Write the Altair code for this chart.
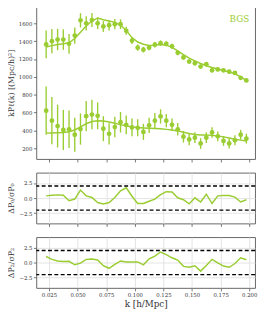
import altair as alt
import pandas as pd

GREEN = "#9acd32"
FONT = "DejaVu Serif"

k = [0.0225, 0.0275, 0.0325, 0.0375, 0.0425, 0.0475, 0.0525, 0.0575, 0.0625,
     0.0675, 0.0725, 0.0775, 0.0825, 0.0875, 0.0925, 0.0975, 0.1025, 0.1075,
     0.1125, 0.1175, 0.1225, 0.1275, 0.1325, 0.1375, 0.1425, 0.1475, 0.1525,
     0.1575, 0.1625, 0.1675, 0.1725, 0.1775, 0.1825, 0.1875, 0.1925, 0.1975]

p0 = [1364, 1400, 1418, 1418, 1370, 1462, 1633, 1600, 1636, 1600, 1564, 1578,
      1590, 1590, 1516, 1407, 1327, 1305, 1327, 1360, 1378, 1370, 1342, 1270,
      1218, 1171, 1153, 1116, 1142, 1073, 1084, 1073, 1058, 1044, 989, 960]
p0_err = [155, 135, 120, 115, 110, 90, 80, 80, 78, 65, 60, 60, 58, 55, 45, 40,
          35, 32, 30, 30, 30, 28, 28, 27, 26, 25, 25, 24, 24, 23, 22, 22, 22,
          21, 21, 20]
p0_model = [1335, 1350, 1362, 1370, 1382, 1430, 1500, 1570, 1625, 1660, 1640,
            1625, 1610, 1580, 1520, 1440, 1390, 1365, 1352, 1355, 1362, 1355,
            1330, 1290, 1250, 1210, 1180, 1150, 1125, 1105, 1088, 1072, 1055,
            1035, 1000, 960]

p2 = [622, 510, 449, 405, 413, 352, 416, 560, 578, 564, 420, 362, 438, 492,
      463, 434, 430, 384, 456, 510, 557, 510, 463, 413, 330, 300, 319, 254,
      319, 377, 334, 283, 254, 290, 352, 308]
p2_err = [270, 265, 240, 225, 210, 190, 175, 170, 165, 150, 140, 120, 115, 115,
          105, 100, 95, 90, 85, 85, 80, 75, 70, 70, 65, 65, 60, 60, 60, 60, 55,
          55, 55, 55, 55, 55]
p2_model = [370, 372, 375, 378, 385, 405, 440, 475, 500, 508, 505, 495, 480,
            465, 450, 440, 432, 428, 425, 422, 418, 412, 405, 395, 380, 365,
            355, 350, 348, 345, 338, 328, 315, 302, 292, 282]

res0 = [0.37, 0.48, 0.53, 0.48, -0.43, -0.16, 1.33, 0.37, 0.10, -0.74, -0.96,
        -0.74, 0.10, 1.22, 1.70, 0.30, -0.90, -0.90, -0.53, -0.16, 0.58, 1.06,
        1.00, 0.05, -0.27, -0.96, 0.05, -0.64, 0.64, -0.90, 0.37, 0.43, 0.43,
        0.16, -0.64, -0.27]
res2 = [1.00, 0.53, 0.26, 0.16, 0.20, -0.37, -0.10, 0.53, 0.58, 0.42, -0.53,
        -0.95, -0.32, 0.26, 0.10, 0.10, 0.10, -0.37, 0.63, 1.05, 1.74, 1.30,
        0.79, 0.42, -0.63, -0.79, -0.53, -1.42, -0.47, 0.53, -0.05, -0.58,
        -0.79, -0.16, 0.79, 0.47]

x_ticks = [0.025, 0.05, 0.075, 0.1, 0.125, 0.15, 0.175, 0.2]
top_y_ticks = [200, 400, 600, 800, 1000, 1200, 1400, 1600]
res_y_ticks = [-2.5, 0.0, 2.5]
thresholds = [-2, 2]

df = pd.DataFrame({"k": k, "p0": p0, "e0": p0_err, "m0": p0_model,
                   "p2": p2, "e2": p2_err, "m2": p2_model,
                   "r0": res0, "r2": res2})
thr = pd.DataFrame({"t": thresholds})

W = 224
XDOM = [0.0139, 0.2051]

x_top = alt.X("k:Q", scale=alt.Scale(domain=XDOM, nice=False, zero=False),
              axis=alt.Axis(values=x_ticks, labels=False, title=None,
                            grid=False, ticks=True))
ysc = alt.Scale(domain=[80, 1786], nice=False, zero=False)
y_top_axis = alt.Axis(values=top_y_ticks, format="d", grid=False,
                      labelOverlap=False, title="kPℓ(k) [(Mpc/h)²]",
                      titlePadding=3)

base = alt.Chart(df)

def ytop(field):
    return alt.Y(field, scale=ysc, axis=y_top_axis)

def multipole(val, err, model):
    bars = base.transform_calculate(
        lo=f"datum.{val} - datum.{err}", hi=f"datum.{val} + datum.{err}"
    ).mark_rule(color=GREEN, strokeWidth=1.4).encode(
        x=x_top, y=ytop("lo:Q"), y2="hi:Q")
    pts = base.mark_circle(color=GREEN, size=24, opacity=1).encode(
        x=x_top, y=ytop(f"{val}:Q"))
    line = base.mark_line(color=GREEN, strokeWidth=1.5).encode(
        x=x_top, y=ytop(f"{model}:Q"))
    return [bars, pts, line]

label = alt.Chart(pd.DataFrame({"s": ["BGS"]})).mark_text(
    color=GREEN, font=FONT, fontSize=9, align="right", baseline="middle"
).encode(x=alt.value(W - 6), y=alt.value(13), text="s:N")

top = alt.layer(*multipole("p0", "e0", "m0"),
                *multipole("p2", "e2", "m2"),
                label).properties(width=W, height=156)

def residual(col, title, show_x):
    x_enc = alt.X("k:Q", scale=alt.Scale(domain=XDOM, nice=False, zero=False),
                  axis=alt.Axis(values=x_ticks, format=".3f",
                                labels=show_x, grid=True, labelOverlap=False,
                                title="k [h/Mpc]" if show_x else None))
    ysc_r = alt.Scale(domain=[-4.2, 4.2], nice=False, zero=False)
    yax = alt.Axis(values=res_y_ticks, format=".1f", grid=True,
                   labelOverlap=False, title=title, titlePadding=3)
    line = base.mark_line(color=GREEN, strokeWidth=1.5).encode(
        x=x_enc, y=alt.Y(f"{col}:Q", scale=ysc_r, axis=yax))
    rules = alt.Chart(thr).mark_rule(color="black", strokeWidth=1.4,
                                     strokeDash=[4, 2.5]).encode(
        y=alt.Y("t:Q", scale=ysc_r, axis=yax))
    return alt.layer(line, rules).properties(width=W, height=52)

mid = residual("r0", "ΔP₀/σP₀", False)
bot = residual("r2", "ΔP₂/σP₂", True)

chart = alt.vconcat(top, mid, bot, spacing=9).properties(
    padding={"left": -1, "top": -6, "right": 0, "bottom": 0}
).configure_view(
    stroke="#555", strokeWidth=0.9
).configure_axis(
    domain=False, tickColor="#555", tickSize=3, tickWidth=0.8,
    labelFont=FONT, titleFont=FONT, labelFontSize=5.5, titleFontSize=8,
    titleFontWeight="normal", labelColor="#333", titleColor="#333",
    gridColor="#dcdcdc", gridWidth=0.8, labelPadding=1.5
).configure_axisX(titleFontSize=9, titlePadding=2)

chart.save("out.html", embed_options={"renderer": "svg", "actions": False})
